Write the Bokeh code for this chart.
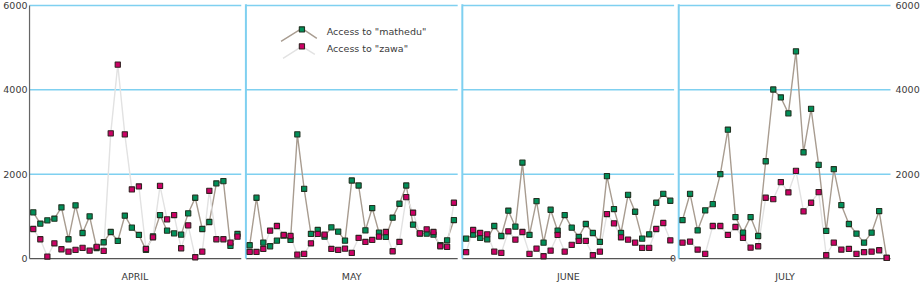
from bokeh.plotting import figure
from bokeh.models import Range1d, LinearAxis, FixedTicker
from bokeh.embed import file_html
from bokeh.resources import INLINE
from bokeh.core.properties import value

months = ["APRIL", "MAY", "JUNE", "JULY"]

mathedu_apr = [1094, 826, 905, 945, 1212, 457, 1260, 606, 1000, 250, 386, 630, 417, 1016, 732,
               559, 205, 527, 1031, 661, 598, 567, 1071, 1441, 701, 866, 1780, 1835, 299, 583]
zawa_apr = [701, 457, 47, 362, 220, 165, 205, 252, 189, 276, 181, 2968, 4598, 2945, 1638,
            1709, 228, 504, 1724, 929, 1031, 244, 787, 31, 165, 1606, 457, 457, 378, 520]

mathedu_may = [315, 1441, 378, 291, 425, 543, 441, 2945, 1654, 583, 677, 520, 740, 638, 425, 1850,
               1732, 669, 1197, 614, 512, 969, 1299, 1732, 803, 591, 591, 567, 315, 433, 913]
zawa_may = [157, 157, 228, 661, 772, 559, 535, 94, 110, 362, 583, 567, 228, 205, 236, 134,
            488, 394, 441, 520, 630, 173, 394, 1457, 1087, 598, 693, 630, 291, 276, 1323]

mathedu_jun = [472, 567, 488, 457, 772, 535, 1134, 756, 2276, 559, 1362, 378, 1157, 661, 1031,
               732, 512, 819, 606, 394, 1953, 1173, 606, 1512, 1110, 472, 575, 1323, 1535, 1370]
zawa_jun = [150, 677, 606, 575, 165, 134, 646, 449, 630, 110, 236, 55, 189, 559, 165,
            323, 417, 417, 79, 165, 1055, 835, 504, 449, 378, 252, 252, 701, 843, 433]

mathedu_jul = [913, 1535, 669, 1142, 1291, 2000, 3055, 984, 614, 984, 535, 2307, 4008, 3819,
               3441, 4913, 2520, 3551, 2220, 654, 2118, 1268, 819, 591, 378, 614, 1126, 16]
zawa_jul = [378, 402, 213, 110, 772, 772, 559, 748, 488, 260, 291, 1441, 1409, 1811,
            1567, 2079, 1118, 1323, 1575, 79, 378, 213, 228, 110, 150, 165, 197, 16]

mathedu = [mathedu_apr, mathedu_may, mathedu_jun, mathedu_jul]
zawa = [zawa_apr, zawa_may, zawa_jun, zawa_jul]

y_ticks = [0, 2000, 4000, 6000]
series_names = ['Access to "mathedu"', 'Access to "zawa"']

FONT = "DejaVu Sans"
FS = "9.5px"
TXT = "#3a3a3a"
BLUE = "#7FD0F0"
M_LINE = "#A89C90"
Z_LINE = "#E2E2E2"
M_FILL = "#00905A"
Z_FILL = "#CC0066"
MSIZE = 5.2

PANEL_W = 213.0
GAP = (866 - 4 * PANEL_W) / 3
PAD = 3.8

p = figure(width=922, height=284, x_range=Range1d(-1, 867), y_range=Range1d(-70, 6047),
           output_backend="svg", toolbar_location=None,
           x_axis_location=None, y_axis_location=None,
           min_border_left=26, min_border_right=28, min_border_top=3, min_border_bottom=22)
p.outline_line_color = None
p.background_fill_color = "white"
p.border_fill_color = "white"
for g in p.grid:
    g.visible = False

starts = [k * (PANEL_W + GAP) for k in range(4)]
centers = [round(s + PANEL_W / 2) for s in starts]

# panel frames
for k, s in enumerate(starts):
    e = s + PANEL_W
    p.segment(x0=[s] * 3, y0=y_ticks[1:], x1=[e] * 3, y1=y_ticks[1:], line_color=BLUE, line_width=1.5)
    p.segment(x0=[s], y0=[0], x1=[e], y1=[0], line_color="#555555", line_width=1.3)
    if k > 0:
        p.segment(x0=[s], y0=[0], x1=[s], y1=[y_ticks[-1] + 30], line_color=BLUE, line_width=2)
p.segment(x0=[0], y0=[0], x1=[0], y1=[y_ticks[-1]], line_color="#666666", line_width=1.3)

def xs_for(k, n):
    s = starts[k]
    return [s + PAD + i * (PANEL_W - 2 * PAD) / (n - 1) for i in range(n)]

for k in range(4):
    xs = xs_for(k, len(mathedu[k]))
    p.line(xs, mathedu[k], line_color=M_LINE, line_width=1.4)
    xz = xs_for(k, len(zawa[k]))
    p.line(xz, zawa[k], line_color=Z_LINE, line_width=1.4)
for k in range(4):
    xs = xs_for(k, len(mathedu[k]))
    p.scatter(xs, mathedu[k], marker="square", size=MSIZE, fill_color=M_FILL, line_color="#223322", line_width=1.1)
for k in range(4):
    xz = xs_for(k, len(zawa[k]))
    p.scatter(xz, zawa[k], marker="square", size=MSIZE, fill_color=Z_FILL, line_color="#332222", line_width=1.1)

# legend (manual chevron icons)
p.line([253, 274, 289], [5149, 5456, 5220], line_color=M_LINE, line_width=1.4)
p.scatter([274], [5432], marker="square", size=MSIZE, fill_color=M_FILL, line_color="#223322", line_width=1.1)
p.line([255, 274, 287], [4747, 5031, 4842], line_color=Z_LINE, line_width=1.4)
p.scatter([274], [5031], marker="square", size=MSIZE, fill_color=Z_FILL, line_color="#332222", line_width=1.1)
p.text(x=[299, 299], y=[5385, 4975], text=series_names, text_font=value(FONT),
       text_font_size=value(FS), text_color=TXT, text_baseline="middle", text_align="left")

# stray "0" label at June's right edge
p.text(x=[starts[2] + PANEL_W - 1], y=[0], text=["0"], text_font=value(FONT),
       text_font_size=value(FS), text_color=TXT, text_baseline="middle", text_align="center")

def style_axis(ax):
    ax.major_label_text_font = FONT
    ax.major_label_text_font_size = FS
    ax.major_label_text_color = TXT
    ax.major_tick_in = 0
    ax.major_tick_out = 0
    ax.minor_tick_in = 0
    ax.minor_tick_out = 0
    ax.axis_line_color = None

yl = LinearAxis(ticker=FixedTicker(ticks=y_ticks))
style_axis(yl)
yl.major_label_standoff = 1
p.add_layout(yl, "left")

yr = LinearAxis(ticker=FixedTicker(ticks=y_ticks[1:]))
style_axis(yr)
yr.major_label_standoff = 4
p.add_layout(yr, "right")

xb = LinearAxis(ticker=FixedTicker(ticks=centers),
                major_label_overrides={c: m for c, m in zip(centers, months)})
style_axis(xb)
xb.major_label_standoff = 9
p.add_layout(xb, "below")

open("out.html", "w").write(file_html(p, INLINE))
